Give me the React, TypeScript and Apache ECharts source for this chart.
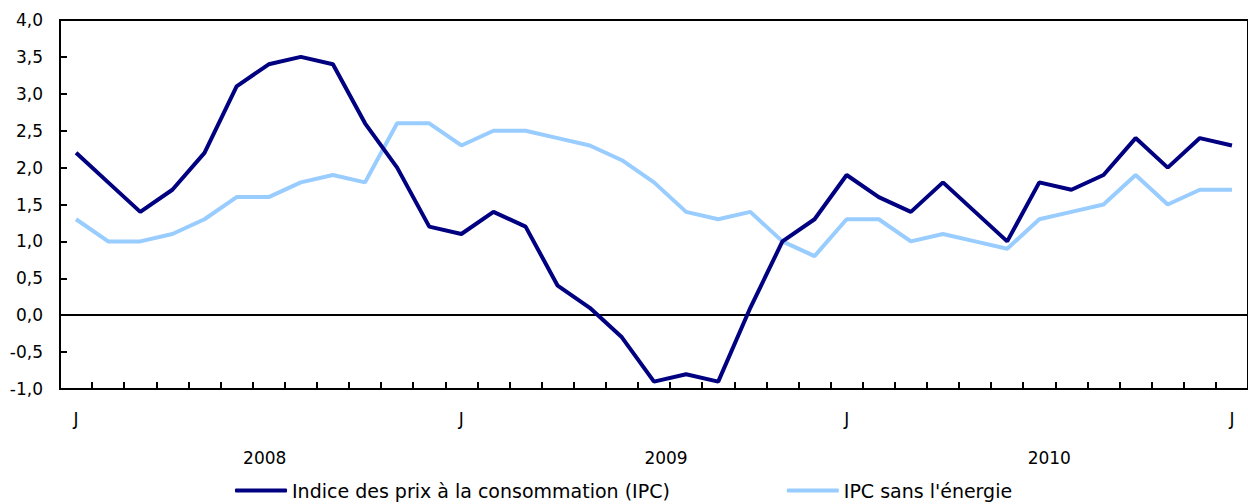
import React, { useEffect, useRef } from "react";
import * as echarts from "echarts";

const months: string[] = [
  "2008-01","2008-02","2008-03","2008-04","2008-05","2008-06","2008-07","2008-08","2008-09","2008-10","2008-11","2008-12",
  "2009-01","2009-02","2009-03","2009-04","2009-05","2009-06","2009-07","2009-08","2009-09","2009-10","2009-11","2009-12",
  "2010-01","2010-02","2010-03","2010-04","2010-05","2010-06","2010-07","2010-08","2010-09","2010-10","2010-11","2010-12",
  "2011-01",
];

const cpi: number[] = [
  2.2, 1.8, 1.4, 1.7, 2.2, 3.1, 3.4, 3.5, 3.4, 2.6, 2.0, 1.2,
  1.1, 1.4, 1.2, 0.4, 0.1, -0.3, -0.9, -0.8, -0.9, 0.1, 1.0, 1.3,
  1.9, 1.6, 1.4, 1.8, 1.4, 1.0, 1.8, 1.7, 1.9, 2.4, 2.0, 2.4,
  2.3,
];

const cpiExEnergy: number[] = [
  1.3, 1.0, 1.0, 1.1, 1.3, 1.6, 1.6, 1.8, 1.9, 1.8, 2.6, 2.6,
  2.3, 2.5, 2.5, 2.4, 2.3, 2.1, 1.8, 1.4, 1.3, 1.4, 1.0, 0.8,
  1.3, 1.3, 1.0, 1.1, 1.0, 0.9, 1.3, 1.4, 1.5, 1.9, 1.5, 1.7,
  1.7,
];

const seriesNames: string[] = ["Indice des prix à la consommation (IPC)", "IPC sans l'énergie"];
const yearLabels: Record<number, string> = { 6: "2008", 18: "2009", 30: "2010" };

const FONT = "'DejaVu Sans', sans-serif";
const FS = 17;

export default function App() {
  const ref = useRef<HTMLDivElement>(null);
  useEffect(() => {
    if (!ref.current) return;
    const chart = echarts.init(ref.current, undefined, { renderer: "svg" });
    chart.setOption({
      animation: false,
      textStyle: { fontFamily: FONT },
      grid: {
        left: 60,
        top: 20,
        right: -5,
        bottom: 115,
        show: true,
        borderColor: "#000",
        borderWidth: 2,
        backgroundColor: "transparent",
      },
      legend: {
        top: 476,
        left: 230,
        itemWidth: 52,
        itemHeight: 4,
        itemGap: 117,
        icon: "roundRect",
        textStyle: { color: "#000", fontSize: 19, fontFamily: FONT },
        data: seriesNames,
      },
      xAxis: [
        {
          type: "category",
          data: months,
          boundaryGap: true,
          position: "bottom",
          axisLine: { show: true, onZero: false, lineStyle: { color: "#000", width: 2 } },
          axisTick: { show: true, inside: true, length: 7, interval: 0, lineStyle: { color: "#000", width: 2 } },
          axisLabel: {
            interval: (idx: number) => idx % 12 === 0,
            formatter: () => "J",
            color: "#000",
            fontSize: FS,
            margin: 21,
            fontFamily: FONT,
          },
          splitLine: { show: false },
        },
        {
          type: "category",
          data: months,
          boundaryGap: true,
          position: "bottom",
          offset: 38,
          axisLine: { show: false },
          axisTick: { show: false },
          axisLabel: {
            interval: (idx: number) => yearLabels[idx] !== undefined,
            formatter: (_v: string, idx: number) =>
              yearLabels[idx] ? `{y${idx}|${yearLabels[idx]}}` : "",
            color: "#000",
            fontSize: FS,
            margin: 22,
            fontFamily: FONT,
            rich: {
              y6: { fontSize: FS, fontFamily: FONT, color: "#000", padding: [0, 8, 0, 0] },
              y18: { fontSize: FS, fontFamily: FONT, color: "#000", padding: [0, 0, 0, 24] },
              y30: { fontSize: FS, fontFamily: FONT, color: "#000", padding: [0, 0, 0, 20] },
            },
          },
          splitLine: { show: false },
        },
      ],
      yAxis: {
        type: "value",
        min: -1,
        max: 4,
        interval: 0.5,
        axisLine: { show: true, onZero: false, lineStyle: { color: "#000", width: 2 } },
        axisTick: { show: true, inside: true, length: 7, lineStyle: { color: "#000", width: 2 } },
        axisLabel: {
          formatter: (v: number) => v.toFixed(1).replace(".", ","),
          color: "#000",
          fontSize: FS,
          margin: 17,
          fontFamily: FONT,
        },
        splitLine: { show: false },
      },
      series: [
        {
          name: seriesNames[0],
          type: "line",
          data: cpi,
          symbol: "none",
          lineStyle: { color: "#000080", width: 4 },
          itemStyle: { color: "#000080" },
          z: 3,
          markLine: {
            silent: true,
            symbol: "none",
            label: { show: false },
            lineStyle: { color: "#000", width: 2, type: "solid" },
            data: [{ yAxis: 0 }],
            z: 1,
          },
        },
        {
          name: seriesNames[1],
          type: "line",
          data: cpiExEnergy,
          symbol: "none",
          lineStyle: { color: "#99CCFF", width: 4 },
          itemStyle: { color: "#99CCFF" },
          z: 2,
        },
      ],
    });
    return () => chart.dispose();
  }, []);
  return (
    <div
      ref={ref}
      style={{ position: "fixed", left: 0, top: 0, width: 1248, height: 504, background: "#fff" }}
    />
  );
}
